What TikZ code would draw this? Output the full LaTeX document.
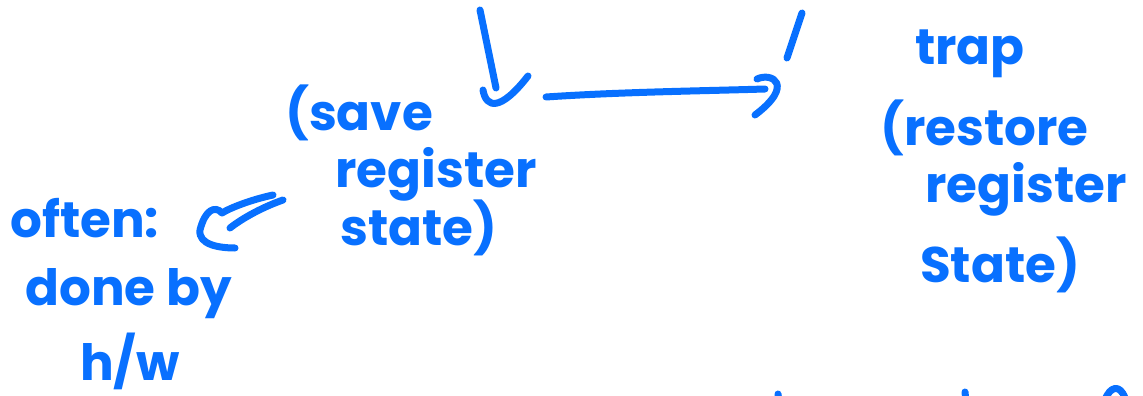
\documentclass[tikz,border=0pt]{standalone}
\usepackage{fontspec}
\setmainfont{Poppins}
\usepackage{tikz}
\usetikzlibrary{arrows.meta,positioning,calc}

\definecolor{penblue}{RGB}{8,112,255}

\begin{document}
\begin{tikzpicture}[x=1pt, y=-1pt,
  every node/.style={font=\fontsize{50}{54}\selectfont\bfseries, text=penblue, inner sep=0pt, anchor=base west},
  pen/.style={draw=penblue, line width=7pt, line cap=round, line join=round}]
  \useasboundingbox (0,0) rectangle (1143,396);

  % left column: what happens before the switch
  \node (save1) at (285,130) {(save};
  \node (save2) at (335,187) {register};
  \node (save3) at (340,245) {state)};
  \node (hw1) at (10,237) {often:};
  \node (hw2) at (25,305) {done by};
  \node (hw3) at (80,380) {h/w};

  % right column
  \node (trap) at (915,65) {trap};
  \node (rest1) at (880,145) {(restore};
  \node (rest2) at (925,202) {register};
  \node (rest3) at (920,282) {State)};

  % pen strokes
  \coordinate (downtop) at (480,10);
  \coordinate (downend) at (496,88);
  \coordinate (jumpstart) at (546,97);
  \coordinate (jumpend) at (765,89);
  \coordinate (righttop) at (802,13);
  \coordinate (rightend) at (787,58);
  \draw[pen] (downtop) -- (downend);
  \draw[pen] (483,90) .. controls (486,108) and (500,112) .. (528,76);
  \draw[pen] (jumpstart) .. controls (620,92) and (700,91) .. (jumpend);
  \draw[pen] (757,79) .. controls (772,72) and (795,85) .. (755,115);
  \draw[pen] (righttop) -- (rightend);

  % hook pointing at the h/w note
  \draw[pen] (273,195) .. controls (250,200) and (230,208) .. (222,213)
             .. controls (215,205) and (205,210) .. (200,230)
             .. controls (198,245) and (220,248) .. (235,248);
  \draw[pen] (283,200) .. controls (260,208) and (240,220) .. (230,228);

  % strokes running off the bottom edge
  \draw[pen] (778,394) -- (779,402);
  \draw[pen] (965,392) -- (966,402);
  \draw[pen] (1105,400) .. controls (1110,386) and (1120,384) .. (1125,398);
\end{tikzpicture}
\end{document}
